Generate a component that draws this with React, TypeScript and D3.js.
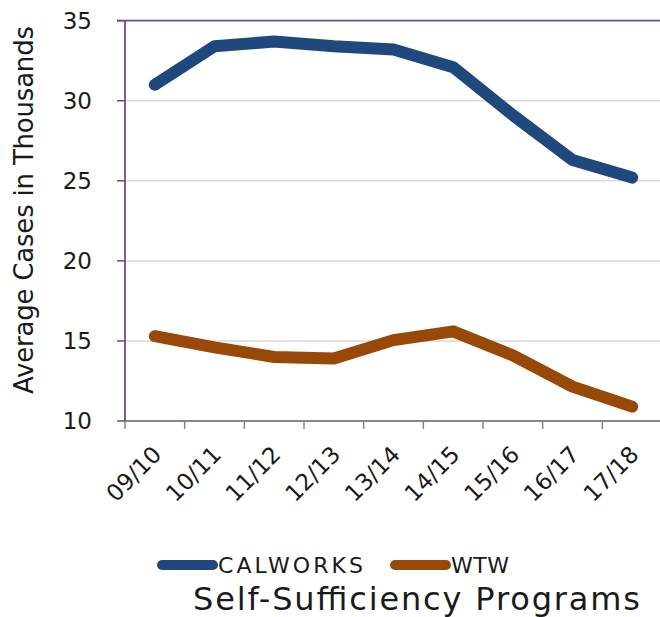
import React from "react";
import * as d3 from "d3";

const categories = ["09/10", "10/11", "11/12", "12/13", "13/14", "14/15", "15/16", "16/17", "17/18"];
const calworks = [31.0, 33.4, 33.7, 33.4, 33.2, 32.1, 29.1, 26.3, 25.2];
const wtw = [15.3, 14.6, 14.0, 13.9, 15.05, 15.6, 14.1, 12.15, 10.9];
const yTicks = [10, 15, 20, 25, 30, 35];
const seriesNames = ["CALWORKS", "WTW"];
const colors = ["#1F497D", "#984807"];

const FONT = "'DejaVu Sans', sans-serif";

export default function App() {
  const W = 660, H = 617;
  const x = d3.scaleBand<string>().domain(categories).range([125, 662]);
  const y = d3.scaleLinear().domain([10, 35]).range([421, 20.7]);
  const line = d3
    .line<number>()
    .x((_, i) => (x(categories[i]) as number) + x.bandwidth() / 2)
    .y((d) => y(d));
  const series = [calworks, wtw];
  const boundaries = categories.map((c) => x(c) as number).concat([x.range()[1]]);
  const legendX = [157, 390];
  const legendLen = [145, 58];

  return (
    <svg width={W} height={H} style={{ position: "absolute", left: 0, top: 0, background: "#fff" }} fontFamily={FONT}>
      {yTicks.filter((t) => t !== 10 && t !== 35).map((t) => (
        <line key={t} x1={125} x2={660} y1={y(t)} y2={y(t)} stroke="#d9d9d9" strokeWidth={1.5} />
      ))}
      <line x1={117} x2={660} y1={y(35)} y2={y(35)} stroke="#64507f" strokeWidth={1.8} />
      {yTicks.map((t) => (
        <g key={"t" + t}>
          <line x1={117} x2={125} y1={y(t)} y2={y(t)} stroke="#64507f" strokeWidth={1.5} />
          <text x={92} y={y(t)} dy="0.36em" textAnchor="end" fontSize={23} fill="#1a1a1a">{t}</text>
        </g>
      ))}
      <line x1={125} x2={660} y1={421} y2={421} stroke="#888888" strokeWidth={2.2} />
      {boundaries.map((b, i) => (
        <line key={"b" + i} x1={b} x2={b} y1={421} y2={429} stroke="#888888" strokeWidth={1.5} />
      ))}
      <line x1={125} x2={125} y1={20.7} y2={421} stroke="#64507f" strokeWidth={1.8} />
      {categories.map((c) => {
        const cx = (x(c) as number) + x.bandwidth() / 2 + 8;
        const cy = 456;
        return (
          <text key={c} x={cx} y={cy} transform={`rotate(-45 ${cx} ${cy})`} textAnchor="end" fontSize={23} fill="#1a1a1a">{c}</text>
        );
      })}
      <text transform={`translate(33 210) rotate(-90)`} textAnchor="middle" fontSize={26} textLength={368} lengthAdjust="spacing" fill="#1a1a1a">Average Cases in Thousands</text>
      {series.map((s, i) => (
        <path key={i} d={line(s) || ""} fill="none" stroke={colors[i]} strokeWidth={12} strokeLinecap="round" strokeLinejoin="round" />
      ))}
      {legendX.map((lx, i) => (
        <g key={"l" + i}>
          <line x1={lx + 5} x2={lx + 56} y1={565} y2={565} stroke={colors[i]} strokeWidth={10} strokeLinecap="round" />
          <text x={lx + 61} y={573} fontSize={22} textLength={legendLen[i]} lengthAdjust="spacing" fill="#1a1a1a">{seriesNames[i]}</text>
        </g>
      ))}
      <text x={193} y={610} fontSize={32} textLength={447} lengthAdjust="spacing" fill="#1a1a1a">Self-Sufficiency Programs</text>
    </svg>
  );
}
